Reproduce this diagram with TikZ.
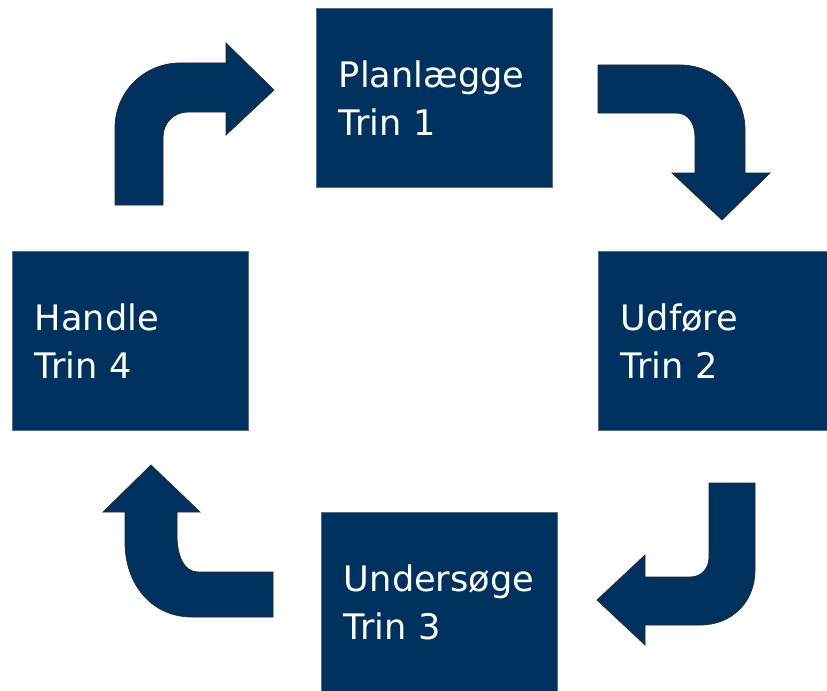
\documentclass[tikz,border=0pt]{standalone}
\usepackage{fontspec}
\setmainfont{DejaVu Sans}

\definecolor{navy}{RGB}{0,50,96}

\begin{document}
\begin{tikzpicture}[
		x=0.025cm, y=-0.025cm,
		stepbox/.style={
		% The shape:
		rectangle,
		% The size:
		minimum width=5.9cm,
		minimum height=4.475cm,
		text width=4.75cm,
		inner xsep=0.575cm,
		% The border:
		draw=navy!70!white,
		thin,
		% The filling:
		fill=navy,
		% Font
		text=white,
		align=left,
		font=\fontsize{25}{34}\selectfont
		},
		bentarrow/.style={
		fill=navy,
		draw=black!85,
		line width=0.5pt
		}
	]
	\clip (0,0) rectangle (827,690);

	\node (plan)[stepbox] at (434,98)  {Planlægge\\Trin 1};
	\node (udfoer)[stepbox] at (716,341) {Udføre\\Trin 2};
	\node (undersoeg)[stepbox] at (439,602) {Undersøge\\Trin 3};
	\node (handle)[stepbox] at (130,341) {Handle\\Trin 4};

	% handle -> plan
	\draw [bentarrow] (115,205) -- (115,128) .. controls (115,92) and (144,63) .. (180,63)
		-- (226,63) -- (226,43) -- (274,90) -- (226,135) -- (226,112) -- (188,112)
		.. controls (174,112) and (163,123) .. (163,137) -- (163,205) -- cycle;
	% plan -> udfoer
	\draw [bentarrow] (598,65) -- (680,65) .. controls (716,65) and (745,94) .. (745,130)
		-- (745,173) -- (770,173) -- (722,220) -- (672,173) -- (695,173) -- (695,138)
		.. controls (695,124) and (689,113) .. (676,113) -- (598,113) -- cycle;
	% udfoer -> undersoeg
	\draw [bentarrow] (755,483) -- (755,570) .. controls (755,602) and (732,625) .. (700,625)
		-- (645,625) -- (645,645) -- (597,600) -- (645,555) -- (645,577) -- (690,577)
		.. controls (702,577) and (709,568) .. (709,557) -- (709,483) -- cycle;
	% undersoeg -> handle
	\draw [bentarrow] (273,617) -- (192,617) .. controls (153,617) and (125,586) .. (125,542)
		-- (125,512) -- (103,512) -- (151,465) -- (200,512) -- (177,512) -- (177,535)
		.. controls (177,556) and (184,572) .. (198,572) -- (273,572) -- cycle;
\end{tikzpicture}
\end{document}
